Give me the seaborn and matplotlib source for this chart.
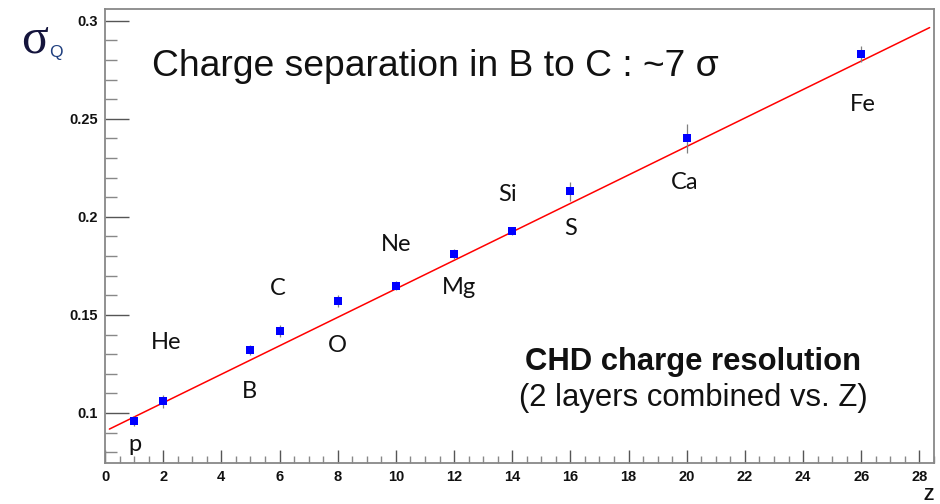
import numpy as np
import pandas as pd
import matplotlib
matplotlib.use("Agg")
import matplotlib.pyplot as plt
from matplotlib.ticker import MultipleLocator
import seaborn as sns

# Charge resolution per element (2 CHD layers combined)
charge_z = [1, 2, 5, 6, 8, 10, 12, 14, 16, 20, 26]
sigma_q = [0.096, 0.106, 0.132, 0.142, 0.157, 0.165, 0.181, 0.193, 0.213, 0.240, 0.283]
sigma_err = [0.0025, 0.0032, 0.0025, 0.003, 0.003, 0.0025, 0.0026, 0.002, 0.0048, 0.0074, 0.004]

# Element names and where they are written (Z, sigma)
elements = ["p", "He", "B", "C", "O", "Ne", "Mg", "Si", "S", "Ca", "Fe"]
label_z = [1.03, 2.1, 4.98, 5.95, 8.0, 10.0, 12.16, 13.85, 16.0, 19.93, 26.05]
label_sigma = [0.0838, 0.1357, 0.1112, 0.1633, 0.1342, 0.1857, 0.1638, 0.2112, 0.1939, 0.2173, 0.2571]

# Linear fit sigma = p0 + p1 * Z
fit_p0 = 0.0907
fit_p1 = 0.00726
fit_range = [0.15, 28.35]

sns.set_theme(style="ticks")
plt.rcParams["font.family"] = ["Liberation Sans", "DejaVu Sans"]

fig = plt.figure(figsize=(9.4, 5.04), dpi=100)
ax = fig.add_axes([105 / 940, 41 / 504, 829 / 940, 454 / 504])

data = pd.DataFrame({"Z": charge_z, "sigma": sigma_q, "err": sigma_err})

fit_x = np.linspace(fit_range[0], fit_range[1], 200)
fit_df = pd.DataFrame({"Z": fit_x, "sigma": fit_p0 + fit_p1 * fit_x})
sns.lineplot(data=fit_df, x="Z", y="sigma", ax=ax, color="#ff0000", lw=1.1, zorder=2)

ax.errorbar(data["Z"], data["sigma"], yerr=data["err"], fmt="none",
            ecolor="#808080", elinewidth=0.9, capsize=0, zorder=3)
sns.scatterplot(data=data, x="Z", y="sigma", ax=ax, marker="s", s=32,
                color="#0000ff", edgecolor="#0000ff", linewidth=0, zorder=4)

ax.set_xlim(0, 28.5)
ax.set_ylim(0.0745, 0.306)
ax.set_xlabel("")
ax.set_ylabel("")

ax.xaxis.set_major_locator(MultipleLocator(2))
ax.xaxis.set_minor_locator(MultipleLocator(0.5))
ax.yaxis.set_minor_locator(MultipleLocator(0.01))
ax.set_yticks([0.1, 0.15, 0.2, 0.25, 0.3])
ax.set_yticklabels(["0.1", "0.15", "0.2", "0.25", "0.3"])

# inward ROOT-style ticks, longer on the y axis
ax.tick_params(axis="y", which="major", direction="in", length=17, width=1.0,
               color="#555555", labelsize=10.5, pad=5)
ax.tick_params(axis="y", which="minor", direction="in", length=8.6, width=1.0,
               color="#888888")
ax.tick_params(axis="x", which="major", direction="in", length=9.4, width=1.0,
               color="#555555", labelsize=10.5, pad=5)
ax.tick_params(axis="x", which="minor", direction="in", length=5, width=1.0,
               color="#888888")
for lbl in ax.get_xticklabels() + ax.get_yticklabels():
    lbl.set_fontweight("bold")
    lbl.set_color("#111111")

for side in ["left", "right", "top", "bottom"]:
    ax.spines[side].set_visible(True)
    ax.spines[side].set_color("#888888")
    ax.spines[side].set_linewidth(1.3)

for name, zx, sy in zip(elements, label_z, label_sigma):
    ax.text(zx, sy, name, ha="center", va="center", fontsize=17,
            family=["Lato", "DejaVu Sans"], color="#111111")

fig.text(152 / 940, 1 - 66 / 504, "Charge separation in B to C : ~7 σ",
         ha="left", va="center", fontsize=26.8, color="#111111")
fig.text(693 / 940, 1 - 362 / 504, "CHD charge resolution",
         ha="center", va="center", fontsize=22.3, fontweight="bold", color="#111111")
fig.text(693 / 940, 1 - 398 / 504, "(2 layers combined vs. Z)",
         ha="center", va="center", fontsize=22.3, color="#111111")

fig.text(35 / 940, 1 - 40 / 504, "σ", ha="center", va="center", fontsize=36,
         family=["Liberation Serif", "DejaVu Serif"], color="#14143c")
fig.text(56 / 940, 1 - 53 / 504, "Q", ha="center", va="center", fontsize=12.5,
         family=["Liberation Sans", "DejaVu Sans"], color="#1f3f7f")
fig.text(929 / 940, 1 - 496 / 504, "Z", ha="center", va="center", fontsize=12,
         fontweight="bold", color="#111111")

fig.savefig("out.png", dpi=100)
